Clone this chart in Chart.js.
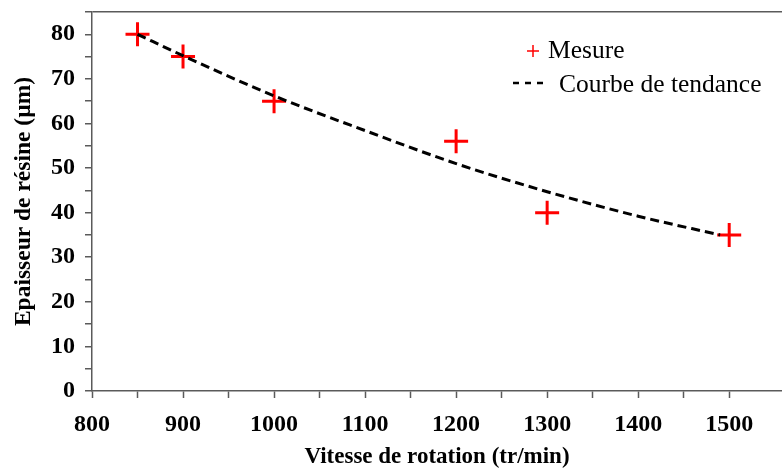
<!DOCTYPE html>
<html>
<head>
<meta charset="utf-8">
<script src="https://cdn.jsdelivr.net/npm/chart.js@4.4.0/dist/chart.umd.min.js"></script>
<style>
  html,body{margin:0;padding:0;background:#fff;}
  #wrap{width:782px;height:468px;position:relative;}
</style>
</head>
<body>
<div id="wrap"><canvas id="c" width="782" height="468"></canvas></div>
<script>
// measured points
const speeds=[850,900,1000,1200,1300,1500];
const thickness=[80,75,65,56,40,35];
// trend curve
const trendSpeeds=[850,900,1000,1100,1200,1300,1400,1490];
const trendValues=[80,75.2,66.2,58.4,51,44.7,39.2,35];
const xLabel='Vitesse de rotation (tr/min)';
const yLabel='Epaisseur de résine (µm)';
const seriesNames=['Mesure','Courbe de tendance'];

const serif='"Liberation Serif", "Times New Roman", serif';
const axisGrey='#5a5a5a';

const legendPlugin={
  id:'sideLegend',
  afterDraw(chart){
    const ctx=chart.ctx;ctx.save();
    ctx.font='25.5px '+serif;ctx.fillStyle='#000';ctx.textBaseline='alphabetic';
    // marker for Mesure
    ctx.strokeStyle='#ff0000';ctx.lineWidth=1.5;
    ctx.beginPath();ctx.moveTo(527,51);ctx.lineTo(539,51);ctx.moveTo(533,45);ctx.lineTo(533,57);ctx.stroke();
    ctx.fillText(seriesNames[0],548,58);
    // marker for trend
    ctx.strokeStyle='#000';ctx.lineWidth=2.5;ctx.setLineDash([6,6]);
    ctx.beginPath();ctx.moveTo(513,83);ctx.lineTo(544,83);ctx.stroke();
    ctx.setLineDash([]);
    ctx.fillText(seriesNames[1],559,92);
    ctx.restore();
  }
};

new Chart(document.getElementById('c'),{
  type:'scatter',
  data:{datasets:[
    {label:seriesNames[1],type:'line',data:trendSpeeds.map((x,i)=>({x,y:trendValues[i]})),
     borderColor:'#000',borderWidth:3,borderDash:[9,5],pointRadius:0,cubicInterpolationMode:'monotone',fill:false},
    {label:seriesNames[0],data:speeds.map((x,i)=>({x,y:thickness[i]})),
     pointStyle:'cross',pointRadius:12,pointBorderWidth:3,borderColor:'#ff0000',backgroundColor:'#ff0000',pointHoverRadius:12}
  ]},
  plugins:[legendPlugin],
  options:{
    responsive:false,animation:false,
    layout:{autoPadding:false,padding:{top:12,right:0,left:0,bottom:0}},
    plugins:{legend:{display:false},tooltip:{enabled:false}},
    scales:{
      x:{type:'linear',min:800,max:1558,
        afterBuildTicks(s){s.ticks=s.ticks.filter(t=>t.value%50===0&&t.value<=1500);},
        afterFit(s){s.height=77;s.paddingLeft=0;s.paddingRight=0;},
        ticks:{stepSize:50,autoSkip:false,maxRotation:0,padding:12,color:'#000',
          font:{family:serif,size:24,weight:'bold'},
          callback:v=>v%100===0?String(v):''},
        grid:{drawOnChartArea:false,drawTicks:true,tickLength:7,tickColor:axisGrey,tickWidth:1.5},
        border:{color:axisGrey,width:1.5},
        title:{display:true,text:xLabel,color:'#000',font:{family:serif,size:23,weight:'bold'},padding:{top:6,bottom:-3}}
      },
      y:{min:0,max:85,
        afterBuildTicks(s){s.ticks=s.ticks.filter(t=>t.value%5===0);},
        afterFit(s){s.width=92;s.paddingTop=0;s.paddingBottom=0;},
        ticks:{stepSize:5,autoSkip:false,padding:10,color:'#000',
          font:{family:serif,size:24,weight:'bold'},
          callback:v=>(v%10===0&&v<=80)?String(v):''},
        grid:{drawOnChartArea:true,drawTicks:true,tickLength:7,tickWidth:1.5,tickColor:axisGrey,
          lineWidth:1.5,color:c=>c.tick&&c.tick.value===85?axisGrey:'rgba(0,0,0,0)'},
        border:{color:axisGrey,width:1.5},
        title:{display:true,text:yLabel,color:'#000',font:{family:serif,size:23.5,weight:'bold'},padding:{top:10,bottom:4}}
      }
    }
  }
});
</script>
</body>
</html>
